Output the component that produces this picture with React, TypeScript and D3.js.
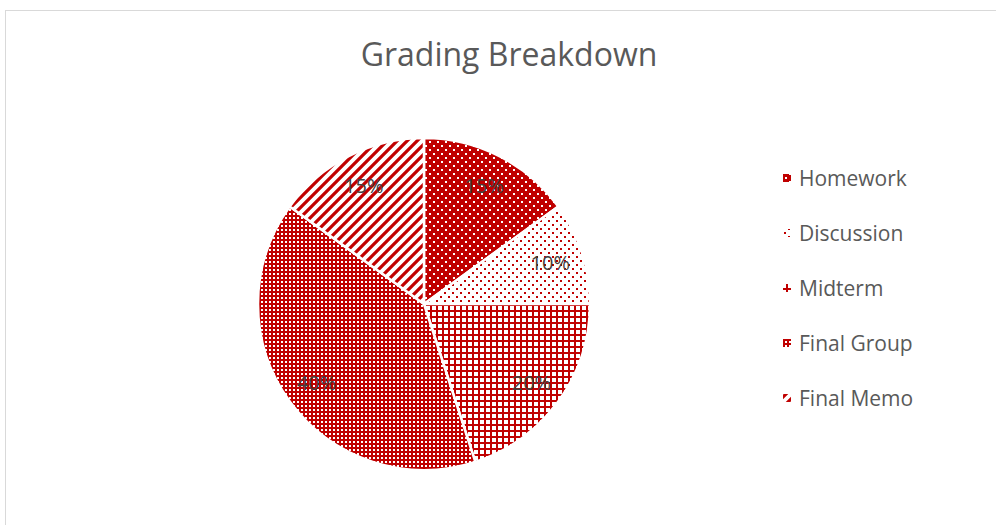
import React from 'react';
import * as d3 from 'd3';

const categories = ['Homework', 'Discussion', 'Midterm', 'Final Group', 'Final Memo'];
const values = [15, 10, 20, 40, 15];
const labels = ['15%', '10%', '20%', '40%', '15%'];
const title = 'Grading Breakdown';

const RED = '#C00000';
const patternIds = ['pHomework', 'pDiscussion', 'pMidterm', 'pFinalGroup', 'pFinalMemo'];
const FONT = '"Open Sans", "DejaVu Sans", sans-serif';

export default function App() {
  const W = 996;
  const H = 525;
  const cx = 424;
  const cy = 304;
  const r = 166;

  const pie = d3.pie<number>().sort(null).value((d) => d);
  const arcs = pie(values);
  const arc = d3.arc<d3.PieArcDatum<number>>().innerRadius(0).outerRadius(r);
  const labelArc = d3.arc<d3.PieArcDatum<number>>().innerRadius(r * 0.8).outerRadius(r * 0.8);

  const legendY = d3.scalePoint<string>().domain(categories).range([178, 398]);

  return (
    <svg width={W} height={H} style={{ position: 'absolute', left: 0, top: 0 }}>
      <defs>
        <pattern id="pHomework" width={8} height={8} patternUnits="userSpaceOnUse">
          <rect width={8} height={8} fill={RED} />
          <rect x={1} y={1} width={2} height={2} fill="#fff" />
          <rect x={5} y={5} width={2} height={2} fill="#fff" />
        </pattern>
        <pattern id="pDiscussion" width={8} height={8} patternUnits="userSpaceOnUse">
          <rect width={8} height={8} fill="#fff" />
          <rect x={0} y={0} width={2} height={2} fill={RED} />
          <rect x={4} y={4} width={2} height={2} fill={RED} />
        </pattern>
        <pattern id="pMidterm" width={6} height={6} patternUnits="userSpaceOnUse">
          <rect width={6} height={6} fill="#fff" />
          <rect x={0} y={0} width={6} height={2} fill={RED} />
          <rect x={0} y={0} width={2} height={6} fill={RED} />
        </pattern>
        <pattern id="pFinalGroup" width={4} height={4} patternUnits="userSpaceOnUse">
          <rect width={4} height={4} fill={RED} />
          <rect x={1} y={1} width={2} height={2} fill="#fff" />
        </pattern>
        <pattern id="pFinalMemo" width={10} height={10} patternUnits="userSpaceOnUse">
          <rect width={10} height={10} fill="#fff" />
          <path d="M-1,11 L11,-1 M-3,3 L3,-3 M7,13 L13,7" stroke={RED} strokeWidth={3.2} />
        </pattern>
      </defs>

      <rect x={5.5} y={10.5} width={1200} height={700} fill="#fff" stroke="#D9D9D9" strokeWidth={1} />

      <text
        x={509}
        y={66}
        textAnchor="middle"
        fontFamily={FONT}
        fontSize={32}
        fill="#595959"
      >
        {title}
      </text>

      <g transform={`translate(${cx},${cy})`}>
        {arcs.map((a, i) => (
          <path
            key={categories[i]}
            d={arc(a) || ''}
            fill={`url(#${patternIds[i]})`}
            stroke="#fff"
            strokeWidth={2.5}
            strokeLinejoin="round"
          />
        ))}
        {arcs.map((a, i) => {
          const [lx, ly] = labelArc.centroid(a);
          return (
            <text
              key={'l' + i}
              x={lx}
              y={ly}
              textAnchor="middle"
              dominantBaseline="central"
              fontFamily={FONT}
              fontSize={20}
              fill="#404040"
            >
              {labels[i]}
            </text>
          );
        })}
      </g>

      {categories.map((c, i) => {
        const y = legendY(c) as number;
        return (
          <g key={'lg' + c}>
            <rect x={783} y={y - 4} width={8} height={8} fill={`url(#${patternIds[i]})`} />
            <text
              x={799}
              y={y}
              dominantBaseline="central"
              fontFamily={FONT}
              fontSize={21}
              fill="#595959"
            >
              {c}
            </text>
          </g>
        );
      })}
    </svg>
  );
}
